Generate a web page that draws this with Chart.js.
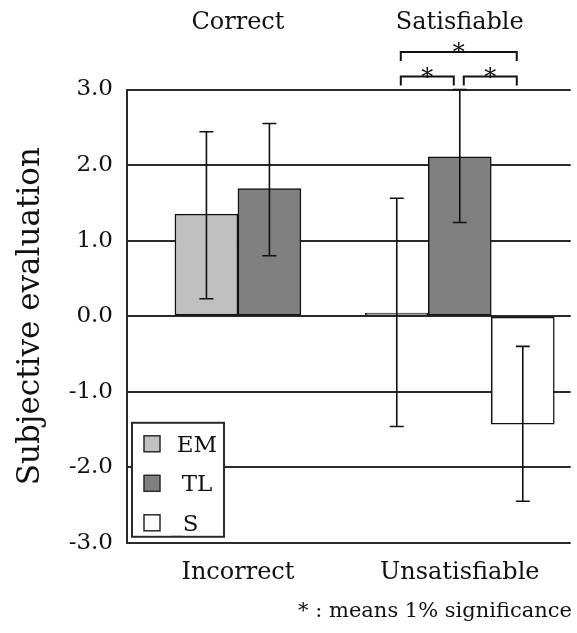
<!DOCTYPE html>
<html>
<head>
<meta charset="utf-8">
<script src="https://cdn.jsdelivr.net/npm/chart.js@4/dist/chart.umd.min.js"></script>
<style>
html,body{margin:0;padding:0;background:#fff;}
#wrap{width:577px;height:633px;position:relative;}
</style>
</head>
<body>
<div id="wrap"><canvas id="c" width="577" height="633"></canvas></div>
<script>
// ---- data ----
const categories = ['Incorrect', 'Unsatisfiable'];
const topLabels = ['Correct', 'Satisfiable'];
const seriesNames = ['EM', 'TL', '_S'];
const emValues = [1.35, 0.04];
const emLow = [0.23, -1.46];
const emHigh = [2.44, 1.56];
const tlValues = [1.69, 2.11];
const tlLow = [0.80, 1.24];
const tlHigh = [2.55, 3.0];
const sValues = [null, -1.43];
const sLow = [null, -2.45];
const sHigh = [null, -0.40];
const yTicks = [-3, -2, -1, 0, 1, 2, 3];
const sigCategory = 'Unsatisfiable';
const sigPairs = [['EM', 'TL', 0], ['TL', '_S', 0], ['EM', '_S', 1]];
const footnote = '* : means 1% significance';
const yTitle = 'Subjective evaluation';

const FONT = "'DejaVu Serif', serif";
const LINE = '#2a2a2a';

const errorBars = {
  id: 'errorBars',
  afterDatasetsDraw(chart) {
    const ctx = chart.ctx, y = chart.scales.y;
    ctx.save();
    ctx.strokeStyle = '#111';
    ctx.lineWidth = 1.6;
    chart.data.datasets.forEach((ds, di) => {
      const meta = chart.getDatasetMeta(di);
      ds.values.forEach((v, i) => {
        if (v === null) return;
        const x = meta.data[i].x;
        const y1 = y.getPixelForValue(ds.low[i]);
        const y2 = y.getPixelForValue(ds.high[i]);
        ctx.beginPath();
        ctx.moveTo(x, y1); ctx.lineTo(x, y2);
        ctx.moveTo(x - 7, y1); ctx.lineTo(x + 7, y1);
        ctx.moveTo(x - 7, y2); ctx.lineTo(x + 7, y2);
        ctx.stroke();
      });
    });
    ctx.restore();
  }
};

const boxLegend = {
  id: 'boxLegend',
  afterDraw(chart) {
    const ctx = chart.ctx, a = chart.chartArea;
    const bx = a.left + 5, bw = 92, bh = 114, by = a.bottom - 6 - bh;
    ctx.save();
    ctx.fillStyle = '#fff';
    ctx.fillRect(bx, by, bw, bh);
    ctx.strokeStyle = LINE; ctx.lineWidth = 2;
    ctx.strokeRect(bx, by, bw, bh);
    ctx.font = '23px ' + FONT;
    ctx.textBaseline = 'middle';
    chart.data.datasets.forEach((ds, i) => {
      const cy = by + 21 + i * 39.5;
      ctx.fillStyle = ds.backgroundColor;
      ctx.fillRect(bx + 12, cy - 8, 16, 16);
      ctx.strokeStyle = LINE; ctx.lineWidth = 1.5;
      ctx.strokeRect(bx + 12, cy - 8, 16, 16);
      const lbl = ds.label;
      if (lbl.startsWith('_')) {
        ctx.textAlign = 'left';
        const w = ctx.measureText(lbl).width;
        const sx = bx + 53 - w / 2;
        ctx.fillStyle = '#b0b0b0';
        ctx.fillText('_', sx, cy + 2);
        ctx.fillStyle = '#111';
        ctx.fillText(lbl.slice(1), sx + ctx.measureText('_').width, cy + 2);
      } else {
        ctx.textAlign = 'center';
        ctx.fillStyle = '#111';
        ctx.fillText(lbl, bx + 65, cy + 2);
      }
    });
    ctx.restore();
  }
};

const sigBrackets = {
  id: 'sigBrackets',
  afterDraw(chart) {
    const ctx = chart.ctx, a = chart.chartArea;
    const ci = chart.data.labels.indexOf(sigCategory);
    const xOf = name => {
      const di = chart.data.datasets.findIndex(d => d.label === name);
      return chart.getDatasetMeta(di).data[ci].x;
    };
    ctx.save();
    ctx.strokeStyle = '#111'; ctx.lineWidth = 2;
    ctx.fillStyle = '#111';
    ctx.font = '24px ' + FONT;
    ctx.textAlign = 'center'; ctx.textBaseline = 'alphabetic';
    sigPairs.forEach(([p, q, level]) => {
      const x1 = xOf(p) + 4, x2 = xOf(q) - 6;
      const top = a.top - 13 - level * 24.5;
      const bot = top + 9;
      ctx.beginPath();
      ctx.moveTo(x1, bot); ctx.lineTo(x1, top); ctx.lineTo(x2, top); ctx.lineTo(x2, bot);
      ctx.stroke();
      ctx.fillText('*', (x1 + x2) / 2, top + 8);
    });
    ctx.restore();
  }
};

const mk = (label, values, low, high, color) => ({
  label, data: values, values, low, high,
  backgroundColor: color, borderColor: '#111', borderWidth: 1.5, borderSkipped: false,
  xAxisID: 'x', yAxisID: 'y'
});

new Chart(document.getElementById('c'), {
  type: 'bar',
  data: {
    labels: categories,
    datasets: [
      mk(seriesNames[0], emValues, emLow, emHigh, '#c0c0c0'),
      mk(seriesNames[1], tlValues, tlLow, tlHigh, '#808080'),
      mk(seriesNames[2], sValues, sLow, sHigh, '#ffffff')
    ]
  },
  options: {
    responsive: false,
    animation: false,
    skipNull: true,
    layout: { padding: { left: 0, right: 5, top: 8, bottom: 0 }, autoPadding: false },
    datasets: { bar: { barThickness: 63 } },
    scales: {
      x: {
        type: 'category', position: 'bottom', offset: true,
        grid: { display: false, drawTicks: false },
        border: { display: false },
        afterFit: s => { s.height = 44; },
        ticks: { color: '#111', font: { family: FONT, size: 24 }, padding: 16, maxRotation: 0, autoSkip: false }
      },
      x2: {
        type: 'category', position: 'top', offset: true, labels: topLabels,
        grid: { display: false, drawTicks: false },
        border: { display: false },
        afterFit: s => { s.height = 81.5; },
        ticks: { color: '#111', font: { family: FONT, size: 24 }, padding: 52, maxRotation: 0, autoSkip: false }
      },
      y: {
        min: -3, max: 3,
        afterBuildTicks: s => { s.ticks = yTicks.map(v => ({ value: v })); },
        afterFit: s => { s.width = 127; },
        grid: { color: LINE, lineWidth: 2, drawTicks: false },
        border: { display: true, color: LINE, width: 2 },
        ticks: { color: '#111', font: { family: FONT, size: 23 }, padding: 14,
                 callback: v => v.toFixed(1) },
        title: { display: true, text: yTitle, color: '#111',
                 font: { family: FONT, size: 31 }, padding: { top: 12, bottom: 0 } }
      }
    },
    plugins: {
      legend: { display: false },
      tooltip: { enabled: false },
      title: { display: true, text: footnote, position: 'bottom', align: 'end',
               color: '#111', font: { family: FONT, size: 21, weight: 'normal' },
               padding: { top: 12, bottom: 9 } }
    }
  },
  plugins: [errorBars, sigBrackets, boxLegend]
});
</script>
</body>
</html>
